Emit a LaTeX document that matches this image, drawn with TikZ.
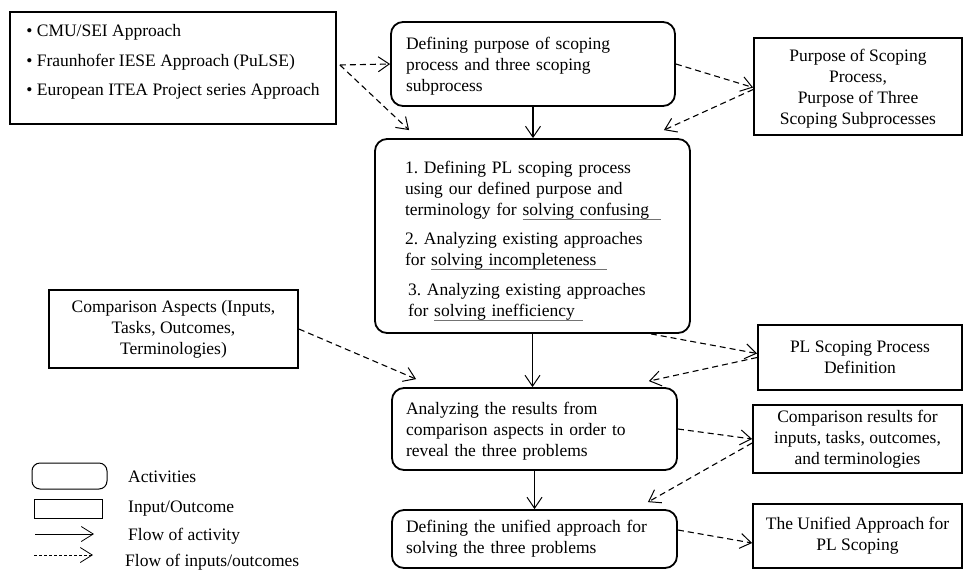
\documentclass[tikz,border=0pt]{standalone}
\usepackage{fontspec}
\setmainfont{Liberation Serif}
\usetikzlibrary{arrows.meta}
% underline drawn as a grey rule of a given length below the words
\newcommand\ulwide[2]{\leavevmode\rlap{\color{black!55}\rule[-4.5pt]{#2}{1pt}}#1}
% invisible struts that lift or lower a text block inside its box
\newcommand\topstrut[1]{\rule{0pt}{#1}}
\newcommand\botstrut[1]{\rule[-#1]{0pt}{0pt}}
\begin{document}
\frenchspacing
\begin{tikzpicture}[x=1pt,y=-1pt,
  every node/.style={font=\fontsize{17.5}{21}\selectfont, inner sep=0pt},
  activity/.style={draw, line width=1.8pt, rounded corners=12pt},
  iobox/.style={draw, line width=1.8pt},
  tipv/.style={-{Straight Barb[length=11pt,width=15pt,line width=1pt]}},
  flow/.style={tipv, line width=1.4pt},
  ioflow/.style={tipv, line width=1.1pt, dash pattern=on 6pt off 4pt},
  legflow/.style={-{Straight Barb[length=12pt,width=15pt,line width=0.8pt]}, line width=0.8pt},
  legioflow/.style={legflow, dash pattern=on 3pt off 2pt},
  legtext/.style={anchor=west},
]
\useasboundingbox (0,0) rectangle (964,571);

% ---- input sources ----
\node[iobox, minimum width=326, minimum height=112, align=left] (A) at (173,68)
  {\textbullet\ CMU/SEI Approach\\[8.5pt]
   \textbullet\ Fraunhofer IESE Approach (PuLSE)\\[8.5pt]
   \textbullet\ European ITEA Project series Approach\botstrut{16pt}};

% ---- activities ----
\node[activity, minimum width=284, minimum height=84, text width=254, align=left, inner xsep=15pt] (B) at (533,64)
  {\topstrut{16pt}Defining purpose of scoping\\process and three scoping\\subprocess};

\node[activity, minimum width=315, minimum height=194, text width=255, align=left, inner xsep=30pt] (D) at (532.5,236)
  {\topstrut{22pt}1. Defining PL scoping process\\
   using our defined purpose and\\
   terminology for \ulwide{solving confusing}{138pt}\\[8.5pt]
   2. Analyzing existing approaches\\
   for \ulwide{solving incompleteness}{176pt}\\[8.5pt]
   \hspace*{3pt}3. Analyzing existing approaches\\
   \hspace*{3pt}for \ulwide{solving inefficiency}{149pt}};

\node[activity, minimum width=285, minimum height=82, text width=257, align=left, inner xsep=14pt] (G) at (534.5,429)
  {\topstrut{16pt}Analyzing the results from\\comparison aspects in order to\\reveal the three problems};

\node[activity, minimum width=285, minimum height=58, text width=257, align=left, inner xsep=14pt] (I) at (534.5,539)
  {Defining the unified approach for\\solving the three problems};

% ---- inputs / outcomes ----
\node[iobox, minimum width=208, minimum height=97, align=center] (C) at (858,86.5)
  {\topstrut{16pt}Purpose of Scoping\\Process,\\Purpose of Three\\Scoping Subprocesses};
\node[iobox, minimum width=249, minimum height=78, align=center] (E) at (173.5,329)
  {Comparison Aspects (Inputs,\\Tasks, Outcomes,\\Terminologies)};
\node[iobox, minimum width=204, minimum height=65, align=center] (F) at (860,357.5)
  {PL Scoping Process\\Definition};
\node[iobox, minimum width=209, minimum height=68, align=center] (H) at (857.5,439)
  {Comparison results for\\inputs, tasks, outcomes,\\and terminologies};
\node[iobox, minimum width=209, minimum height=64, align=center] (J) at (857.5,536)
  {The Unified Approach for\\PL Scoping};

% ---- flow of activity ----
\draw[flow] (B.south) -- (B.south |- D.north);
\draw[flow] (D.south) -- (D.south |- G.north);
\draw[flow] (G.south) -- (G.south |- I.north);

% ---- flow of inputs / outcomes ----
\draw[ioflow] ([xshift=3pt,yshift=3pt]A.east) -- (B.west);
\draw[ioflow] ([xshift=3pt,yshift=3pt]A.east) -- ([xshift=35pt,yshift=8pt]D.north west);
\draw[ioflow] (B.east) -- ([yshift=-1pt]C.west);
\draw[ioflow] ([yshift=-3pt]C.west) -- ([xshift=-27pt,yshift=8pt]D.north east);
\draw[ioflow] (E.east) -- ([xshift=25pt,yshift=8pt]G.north west);
\draw[ioflow] ([xshift=-40pt]D.south east) -- ([yshift=4pt]F.west);
\draw[ioflow] (F.west) -- ([xshift=-29pt,yshift=6pt]G.north east);
\draw[ioflow] (G.east) -- (H.west);
\draw[ioflow] ([yshift=-4pt]H.west) -- ([xshift=-30pt,yshift=7pt]I.north east);
\draw[ioflow] ([yshift=9pt]I.east) -- ([yshift=-7pt]J.west);

% ---- legend ----
\node[draw, line width=1pt, rounded corners=8pt, minimum width=75, minimum height=26] (lgA) at (69.5,476) {};
\node[draw, line width=1pt, minimum width=68, minimum height=19] (lgI) at (68,508.5) {};
\coordinate (lgS1) at (35,534);
\coordinate (lgS2) at (94,534);
\coordinate (lgD1) at (34,555);
\coordinate (lgD2) at (93,555);
\draw[legflow] (lgS1) -- (lgS2);
\draw[legioflow] (lgD1) -- (lgD2);
\node[legtext] (lgAt) at (128,477) {Activities};
\node[legtext] (lgIt) at (128,509) {Input/Outcome};
\node[legtext] (lgSt) at (128,536) {Flow of activity};
\node[legtext] (lgDt) at (125,562) {Flow of inputs/outcomes};
\end{tikzpicture}
\end{document}
